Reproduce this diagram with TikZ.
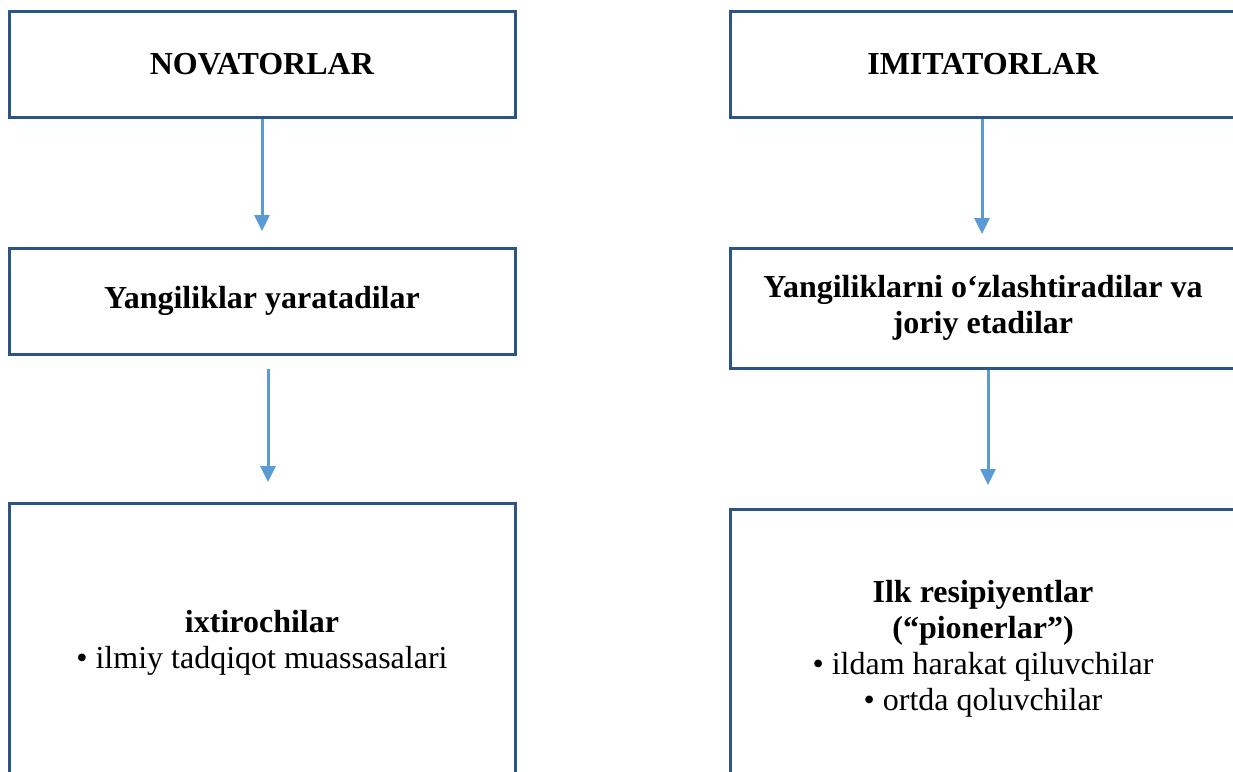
\documentclass[tikz,border=0pt]{standalone}
\usepackage{fontspec}
\setmainfont{Liberation Serif}
\usetikzlibrary{arrows.meta}
\definecolor{boxline}{HTML}{2C5484}
\definecolor{arrowblue}{HTML}{5B9BD5}
\begin{document}
\begin{tikzpicture}[x=1pt,y=-1pt,
  stagebox/.style={draw=boxline,line width=3pt,fill=white,minimum width=506pt,
    align=center,inner sep=0pt,font=\fontsize{32}{36}\selectfont},
  flowarrow/.style={draw=arrowblue,line width=3pt,
    -{Triangle[width=15pt,length=16pt]}}]
\useasboundingbox (0,0) rectangle (1233,771);

% left column
\node[stagebox,minimum height=106pt] (nov) at (262,64) {\textbf{NOVATORLAR}};
\node[stagebox,minimum height=106pt] (create) at (262,301) {\textbf{Yangiliklar yaratadilar}};
\node[stagebox,minimum height=280pt] (inv) at (262,643)
  {\textbf{ixtirochilar}\\• ilmiy tadqiqot muassasalari};

% right column
\node[stagebox,minimum height=106pt] (imi) at (983,64) {\textbf{IMITATORLAR}};
\node[stagebox,minimum height=120pt] (adopt) at (983,308)
  {\textbf{Yangiliklarni o‘zlashtiradilar va}\\\textbf{joriy etadilar}};
\node[stagebox,minimum height=280pt] (pion) at (983,649)
  {\textbf{Ilk resipiyentlar}\\\textbf{(“pionerlar”)}\\• ildam harakat qiluvchilar\\• ortda qoluvchilar};

% arrow end points in the gaps between boxes
\coordinate (novend) at (262,231);
\coordinate (createstart) at (268,369);
\coordinate (createend) at (268,482);
\coordinate (imiend) at (982,234);
\coordinate (adoptend) at (988,485);

\draw[flowarrow] (nov.south -| novend) -- (novend);
\draw[flowarrow] (createstart) -- (createend);
\draw[flowarrow] (imi.south -| imiend) -- (imiend);
\draw[flowarrow] (adopt.south -| adoptend) -- (adoptend);
\end{tikzpicture}
\end{document}
